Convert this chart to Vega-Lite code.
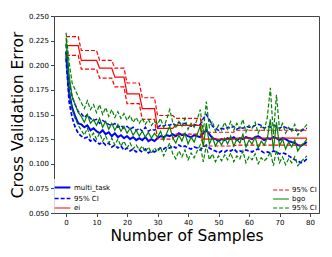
{
  "$schema": "https://vega.github.io/schema/vega-lite/v6.json",
  "width": 265,
  "height": 197,
  "autosize": "none",
  "padding": {"left": 54, "top": 16, "right": 13, "bottom": 44},
  "background": "white",
  "config": {
    "font": "DejaVu Sans",
    "view": {"stroke": "#444", "strokeWidth": 1},
    "axis": {
      "grid": false,
      "domainColor": "#444",
      "tickColor": "#444",
      "tickSize": 3.5,
      "labelFontSize": 7,
      "labelColor": "#000",
      "labelPadding": 2,
      "titleFontSize": 15.5,
      "titleFontWeight": "normal",
      "titleColor": "#000"
    },
    "legend": {
      "symbolType": "M-1.5,0H1.5",
      "symbolSize": 110,
      "labelFontSize": 7,
      "labelColor": "#000",
      "labelOffset": 5,
      "rowPadding": 0,
      "padding": 2,
      "offset": 0,
      "fillColor": "rgba(255,255,255,0.8)"
    }
  },
  "data": {
    "values": [
      {"n":0,"mt":0.214,"ml":0.207,"mh":0.221,"ei":0.220,"el":0.210,"eh":0.229,"bg":0.228,"bl":0.222,"bh":0.233},
      {"n":1,"mt":0.172,"ml":0.163,"mh":0.182,"ei":0.220,"el":0.210,"eh":0.229,"bg":0.190,"bl":0.178,"bh":0.203},
      {"n":2,"mt":0.157,"ml":0.147,"mh":0.168,"ei":0.220,"el":0.210,"eh":0.229,"bg":0.168,"bl":0.155,"bh":0.182},
      {"n":3,"mt":0.148,"ml":0.137,"mh":0.160,"ei":0.220,"el":0.210,"eh":0.229,"bg":0.160,"bl":0.146,"bh":0.175},
      {"n":4,"mt":0.141,"ml":0.131,"mh":0.153,"ei":0.220,"el":0.210,"eh":0.229,"bg":0.152,"bl":0.139,"bh":0.168},
      {"n":5,"mt":0.140,"ml":0.128,"mh":0.151,"ei":0.205,"el":0.196,"eh":0.215,"bg":0.148,"bl":0.134,"bh":0.162},
      {"n":6,"mt":0.137,"ml":0.126,"mh":0.147,"ei":0.205,"el":0.196,"eh":0.215,"bg":0.142,"bl":0.129,"bh":0.156},
      {"n":7,"mt":0.139,"ml":0.127,"mh":0.150,"ei":0.205,"el":0.196,"eh":0.215,"bg":0.150,"bl":0.136,"bh":0.164},
      {"n":8,"mt":0.134,"ml":0.123,"mh":0.146,"ei":0.205,"el":0.196,"eh":0.215,"bg":0.141,"bl":0.127,"bh":0.155},
      {"n":9,"mt":0.136,"ml":0.125,"mh":0.144,"ei":0.205,"el":0.196,"eh":0.215,"bg":0.145,"bl":0.131,"bh":0.160},
      {"n":10,"mt":0.133,"ml":0.122,"mh":0.145,"ei":0.205,"el":0.196,"eh":0.215,"bg":0.139,"bl":0.125,"bh":0.152},
      {"n":11,"mt":0.131,"ml":0.120,"mh":0.141,"ei":0.197,"el":0.187,"eh":0.205,"bg":0.146,"bl":0.131,"bh":0.160},
      {"n":12,"mt":0.134,"ml":0.122,"mh":0.144,"ei":0.197,"el":0.187,"eh":0.205,"bg":0.137,"bl":0.123,"bh":0.150},
      {"n":13,"mt":0.130,"ml":0.119,"mh":0.142,"ei":0.197,"el":0.187,"eh":0.205,"bg":0.143,"bl":0.128,"bh":0.157},
      {"n":14,"mt":0.132,"ml":0.121,"mh":0.140,"ei":0.197,"el":0.187,"eh":0.205,"bg":0.135,"bl":0.121,"bh":0.148},
      {"n":15,"mt":0.128,"ml":0.117,"mh":0.139,"ei":0.197,"el":0.187,"eh":0.205,"bg":0.141,"bl":0.126,"bh":0.155},
      {"n":16,"mt":0.131,"ml":0.119,"mh":0.141,"ei":0.188,"el":0.178,"eh":0.197,"bg":0.134,"bl":0.119,"bh":0.147},
      {"n":17,"mt":0.127,"ml":0.116,"mh":0.137,"ei":0.188,"el":0.178,"eh":0.197,"bg":0.140,"bl":0.125,"bh":0.153},
      {"n":18,"mt":0.129,"ml":0.118,"mh":0.139,"ei":0.188,"el":0.178,"eh":0.197,"bg":0.133,"bl":0.118,"bh":0.146},
      {"n":19,"mt":0.126,"ml":0.114,"mh":0.136,"ei":0.188,"el":0.178,"eh":0.197,"bg":0.138,"bl":0.123,"bh":0.151},
      {"n":20,"mt":0.128,"ml":0.116,"mh":0.138,"ei":0.171,"el":0.161,"eh":0.182,"bg":0.131,"bl":0.116,"bh":0.144},
      {"n":21,"mt":0.125,"ml":0.113,"mh":0.135,"ei":0.171,"el":0.161,"eh":0.182,"bg":0.136,"bl":0.121,"bh":0.149},
      {"n":22,"mt":0.127,"ml":0.115,"mh":0.137,"ei":0.171,"el":0.161,"eh":0.182,"bg":0.129,"bl":0.115,"bh":0.142},
      {"n":23,"mt":0.124,"ml":0.112,"mh":0.134,"ei":0.171,"el":0.161,"eh":0.182,"bg":0.134,"bl":0.119,"bh":0.147},
      {"n":24,"mt":0.126,"ml":0.114,"mh":0.136,"ei":0.171,"el":0.161,"eh":0.182,"bg":0.128,"bl":0.114,"bh":0.141},
      {"n":25,"mt":0.124,"ml":0.112,"mh":0.133,"ei":0.156,"el":0.145,"eh":0.167,"bg":0.133,"bl":0.118,"bh":0.146},
      {"n":26,"mt":0.127,"ml":0.115,"mh":0.137,"ei":0.156,"el":0.145,"eh":0.167,"bg":0.127,"bl":0.112,"bh":0.140},
      {"n":27,"mt":0.123,"ml":0.111,"mh":0.133,"ei":0.156,"el":0.145,"eh":0.167,"bg":0.132,"bl":0.117,"bh":0.145},
      {"n":28,"mt":0.125,"ml":0.113,"mh":0.135,"ei":0.156,"el":0.145,"eh":0.167,"bg":0.126,"bl":0.111,"bh":0.139},
      {"n":29,"mt":0.123,"ml":0.112,"mh":0.134,"ei":0.156,"el":0.145,"eh":0.167,"bg":0.131,"bl":0.116,"bh":0.143},
      {"n":30,"mt":0.126,"ml":0.114,"mh":0.137,"ei":0.136,"el":0.125,"eh":0.149,"bg":0.127,"bl":0.112,"bh":0.140},
      {"n":31,"mt":0.128,"ml":0.116,"mh":0.139,"ei":0.136,"el":0.125,"eh":0.149,"bg":0.133,"bl":0.117,"bh":0.146},
      {"n":32,"mt":0.127,"ml":0.115,"mh":0.138,"ei":0.136,"el":0.125,"eh":0.149,"bg":0.124,"bl":0.108,"bh":0.137},
      {"n":33,"mt":0.129,"ml":0.117,"mh":0.140,"ei":0.136,"el":0.125,"eh":0.149,"bg":0.131,"bl":0.115,"bh":0.145},
      {"n":34,"mt":0.128,"ml":0.116,"mh":0.139,"ei":0.136,"el":0.125,"eh":0.149,"bg":0.138,"bl":0.121,"bh":0.155},
      {"n":35,"mt":0.130,"ml":0.118,"mh":0.141,"ei":0.136,"el":0.125,"eh":0.149,"bg":0.126,"bl":0.110,"bh":0.142},
      {"n":36,"mt":0.128,"ml":0.116,"mh":0.139,"ei":0.139,"el":0.130,"eh":0.146,"bg":0.121,"bl":0.105,"bh":0.136},
      {"n":37,"mt":0.131,"ml":0.119,"mh":0.142,"ei":0.139,"el":0.130,"eh":0.146,"bg":0.129,"bl":0.113,"bh":0.143},
      {"n":38,"mt":0.129,"ml":0.117,"mh":0.140,"ei":0.139,"el":0.130,"eh":0.146,"bg":0.123,"bl":0.107,"bh":0.138},
      {"n":39,"mt":0.130,"ml":0.118,"mh":0.141,"ei":0.139,"el":0.130,"eh":0.146,"bg":0.131,"bl":0.114,"bh":0.146},
      {"n":40,"mt":0.128,"ml":0.116,"mh":0.139,"ei":0.139,"el":0.130,"eh":0.146,"bg":0.120,"bl":0.104,"bh":0.135},
      {"n":41,"mt":0.127,"ml":0.115,"mh":0.138,"ei":0.139,"el":0.130,"eh":0.146,"bg":0.127,"bl":0.111,"bh":0.141},
      {"n":42,"mt":0.129,"ml":0.117,"mh":0.140,"ei":0.139,"el":0.130,"eh":0.146,"bg":0.122,"bl":0.106,"bh":0.137},
      {"n":43,"mt":0.128,"ml":0.116,"mh":0.139,"ei":0.139,"el":0.130,"eh":0.146,"bg":0.130,"bl":0.113,"bh":0.145},
      {"n":44,"mt":0.127,"ml":0.114,"mh":0.140,"ei":0.139,"el":0.130,"eh":0.146,"bg":0.138,"bl":0.119,"bh":0.155},
      {"n":45,"mt":0.131,"ml":0.117,"mh":0.146,"ei":0.125,"el":0.118,"eh":0.132,"bg":0.117,"bl":0.102,"bh":0.132},
      {"n":46,"mt":0.134,"ml":0.119,"mh":0.150,"ei":0.125,"el":0.118,"eh":0.132,"bg":0.141,"bl":0.119,"bh":0.163},
      {"n":47,"mt":0.130,"ml":0.116,"mh":0.145,"ei":0.125,"el":0.118,"eh":0.132,"bg":0.120,"bl":0.104,"bh":0.137},
      {"n":48,"mt":0.126,"ml":0.114,"mh":0.138,"ei":0.125,"el":0.118,"eh":0.132,"bg":0.127,"bl":0.110,"bh":0.143},
      {"n":49,"mt":0.125,"ml":0.113,"mh":0.136,"ei":0.125,"el":0.118,"eh":0.132,"bg":0.118,"bl":0.102,"bh":0.133},
      {"n":50,"mt":0.123,"ml":0.111,"mh":0.134,"ei":0.125,"el":0.118,"eh":0.132,"bg":0.124,"bl":0.108,"bh":0.139},
      {"n":51,"mt":0.125,"ml":0.113,"mh":0.136,"ei":0.125,"el":0.118,"eh":0.132,"bg":0.119,"bl":0.103,"bh":0.134},
      {"n":52,"mt":0.124,"ml":0.112,"mh":0.135,"ei":0.125,"el":0.118,"eh":0.132,"bg":0.126,"bl":0.109,"bh":0.142},
      {"n":53,"mt":0.126,"ml":0.114,"mh":0.137,"ei":0.125,"el":0.118,"eh":0.132,"bg":0.120,"bl":0.104,"bh":0.135},
      {"n":54,"mt":0.125,"ml":0.113,"mh":0.136,"ei":0.125,"el":0.118,"eh":0.132,"bg":0.128,"bl":0.111,"bh":0.143},
      {"n":55,"mt":0.127,"ml":0.115,"mh":0.138,"ei":0.125,"el":0.118,"eh":0.132,"bg":0.118,"bl":0.102,"bh":0.134},
      {"n":56,"mt":0.124,"ml":0.112,"mh":0.135,"ei":0.126,"el":0.119,"eh":0.134,"bg":0.125,"bl":0.108,"bh":0.141},
      {"n":57,"mt":0.126,"ml":0.113,"mh":0.137,"ei":0.126,"el":0.119,"eh":0.134,"bg":0.121,"bl":0.105,"bh":0.136},
      {"n":58,"mt":0.125,"ml":0.112,"mh":0.136,"ei":0.126,"el":0.119,"eh":0.134,"bg":0.130,"bl":0.113,"bh":0.145},
      {"n":59,"mt":0.127,"ml":0.114,"mh":0.138,"ei":0.126,"el":0.119,"eh":0.134,"bg":0.117,"bl":0.101,"bh":0.132},
      {"n":60,"mt":0.126,"ml":0.113,"mh":0.137,"ei":0.126,"el":0.119,"eh":0.134,"bg":0.124,"bl":0.107,"bh":0.139},
      {"n":61,"mt":0.125,"ml":0.112,"mh":0.137,"ei":0.126,"el":0.119,"eh":0.134,"bg":0.120,"bl":0.104,"bh":0.136},
      {"n":62,"mt":0.127,"ml":0.114,"mh":0.139,"ei":0.126,"el":0.119,"eh":0.134,"bg":0.127,"bl":0.110,"bh":0.142},
      {"n":63,"mt":0.128,"ml":0.115,"mh":0.140,"ei":0.126,"el":0.119,"eh":0.134,"bg":0.116,"bl":0.100,"bh":0.131},
      {"n":64,"mt":0.126,"ml":0.113,"mh":0.139,"ei":0.126,"el":0.119,"eh":0.134,"bg":0.123,"bl":0.106,"bh":0.138},
      {"n":65,"mt":0.124,"ml":0.111,"mh":0.136,"ei":0.126,"el":0.119,"eh":0.134,"bg":0.119,"bl":0.103,"bh":0.134},
      {"n":66,"mt":0.126,"ml":0.112,"mh":0.138,"ei":0.126,"el":0.119,"eh":0.134,"bg":0.126,"bl":0.106,"bh":0.147},
      {"n":67,"mt":0.125,"ml":0.111,"mh":0.137,"ei":0.126,"el":0.119,"eh":0.134,"bg":0.145,"bl":0.112,"bh":0.177},
      {"n":68,"mt":0.127,"ml":0.113,"mh":0.139,"ei":0.126,"el":0.119,"eh":0.134,"bg":0.114,"bl":0.098,"bh":0.130},
      {"n":69,"mt":0.126,"ml":0.112,"mh":0.138,"ei":0.126,"el":0.119,"eh":0.134,"bg":0.142,"bl":0.114,"bh":0.170},
      {"n":70,"mt":0.124,"ml":0.110,"mh":0.136,"ei":0.126,"el":0.119,"eh":0.134,"bg":0.118,"bl":0.101,"bh":0.135},
      {"n":71,"mt":0.126,"ml":0.111,"mh":0.138,"ei":0.126,"el":0.119,"eh":0.134,"bg":0.125,"bl":0.107,"bh":0.141},
      {"n":72,"mt":0.125,"ml":0.110,"mh":0.137,"ei":0.126,"el":0.119,"eh":0.134,"bg":0.115,"bl":0.099,"bh":0.131},
      {"n":73,"mt":0.123,"ml":0.108,"mh":0.135,"ei":0.126,"el":0.119,"eh":0.134,"bg":0.122,"bl":0.105,"bh":0.137},
      {"n":74,"mt":0.122,"ml":0.106,"mh":0.135,"ei":0.126,"el":0.119,"eh":0.134,"bg":0.117,"bl":0.101,"bh":0.133},
      {"n":75,"mt":0.121,"ml":0.104,"mh":0.134,"ei":0.126,"el":0.119,"eh":0.134,"bg":0.124,"bl":0.107,"bh":0.140},
      {"n":76,"mt":0.119,"ml":0.103,"mh":0.134,"ei":0.126,"el":0.119,"eh":0.134,"bg":0.113,"bl":0.098,"bh":0.129},
      {"n":77,"mt":0.118,"ml":0.101,"mh":0.133,"ei":0.126,"el":0.119,"eh":0.134,"bg":0.118,"bl":0.102,"bh":0.134},
      {"n":78,"mt":0.120,"ml":0.102,"mh":0.135,"ei":0.126,"el":0.119,"eh":0.134,"bg":0.121,"bl":0.105,"bh":0.136},
      {"n":79,"mt":0.122,"ml":0.105,"mh":0.136,"ei":0.126,"el":0.119,"eh":0.134,"bg":0.125,"bl":0.108,"bh":0.140}
    ]
  },
  "encoding": {
    "x": {
      "field": "n",
      "type": "quantitative",
      "scale": {"domain": [-3.95, 82.95], "nice": false, "zero": false},
      "axis": {"values": [0, 10, 20, 30, 40, 50, 60, 70, 80], "title": "Number of Samples", "titlePadding": 3}
    },
    "y": {
      "field": "v",
      "type": "quantitative",
      "scale": {"domain": [0.05, 0.25], "nice": false, "zero": false},
      "axis": {"values": [0.05, 0.075, 0.1, 0.125, 0.15, 0.175, 0.2, 0.225, 0.25], "format": ".3f", "title": "Cross Validation Error", "titlePadding": 3}
    }
  },
  "layer": [
    {
      "transform": [{"fold": ["mt", "ml", "mh", "ei"], "as": ["key", "v"]}],
      "mark": {"type": "line", "clip": true},
      "encoding": {
        "color": {
          "field": "key", "type": "nominal",
          "scale": {"domain": ["mt", "ml", "mh", "ei"], "range": ["#0000ff", "#0000ff", "#0000ff", "#ff0000"]},
          "legend": {"orient": "bottom-left", "title": null, "values": ["mt", "ml", "ei"], "labelExpr": "datum.value == 'mt' ? 'multi_task' : datum.value == 'ei' ? 'ei' : '95% CI'"}
        },
        "strokeDash": {
          "field": "key", "type": "nominal",
          "scale": {"domain": ["mt", "ml", "mh", "ei"], "range": [[1, 0], [4, 2], [4, 2], [1, 0]]},
          "legend": {"orient": "bottom-left", "title": null, "values": ["mt", "ml", "ei"], "labelExpr": "datum.value == 'mt' ? 'multi_task' : datum.value == 'ei' ? 'ei' : '95% CI'"}
        },
        "strokeWidth": {
          "field": "key", "type": "nominal",
          "scale": {"domain": ["mt", "ml", "mh", "ei"], "range": [2, 1.2, 1.2, 2]},
          "legend": {"orient": "bottom-left", "title": null, "values": ["mt", "ml", "ei"], "labelExpr": "datum.value == 'mt' ? 'multi_task' : datum.value == 'ei' ? 'ei' : '95% CI'"}
        }
      }
    },
    {
      "transform": [{"fold": ["el", "eh", "bg", "bl", "bh"], "as": ["key", "v"]}],
      "mark": {"type": "line", "clip": true},
      "encoding": {
        "color": {
          "field": "key", "type": "nominal",
          "scale": {"domain": ["el", "eh", "bg", "bl", "bh"], "range": ["#ff0000", "#ff0000", "#008000", "#008000", "#008000"]},
          "legend": {"orient": "bottom-right", "title": null, "values": ["el", "bg", "bl"], "labelExpr": "datum.value == 'bg' ? 'bgo' : '95% CI'"}
        },
        "strokeDash": {
          "field": "key", "type": "nominal",
          "scale": {"domain": ["el", "eh", "bg", "bl", "bh"], "range": [[4, 2], [4, 2], [1, 0], [4, 2], [4, 2]]},
          "legend": {"orient": "bottom-right", "title": null, "values": ["el", "bg", "bl"], "labelExpr": "datum.value == 'bg' ? 'bgo' : '95% CI'"}
        },
        "strokeWidth": {
          "field": "key", "type": "nominal",
          "scale": {"domain": ["el", "eh", "bg", "bl", "bh"], "range": [1.2, 1.2, 2, 1.2, 1.2]},
          "legend": {"orient": "bottom-right", "title": null, "values": ["el", "bg", "bl"], "labelExpr": "datum.value == 'bg' ? 'bgo' : '95% CI'"}
        }
      }
    }
  ],
  "resolve": {"scale": {"color": "independent", "strokeDash": "independent", "strokeWidth": "independent"}}
}
